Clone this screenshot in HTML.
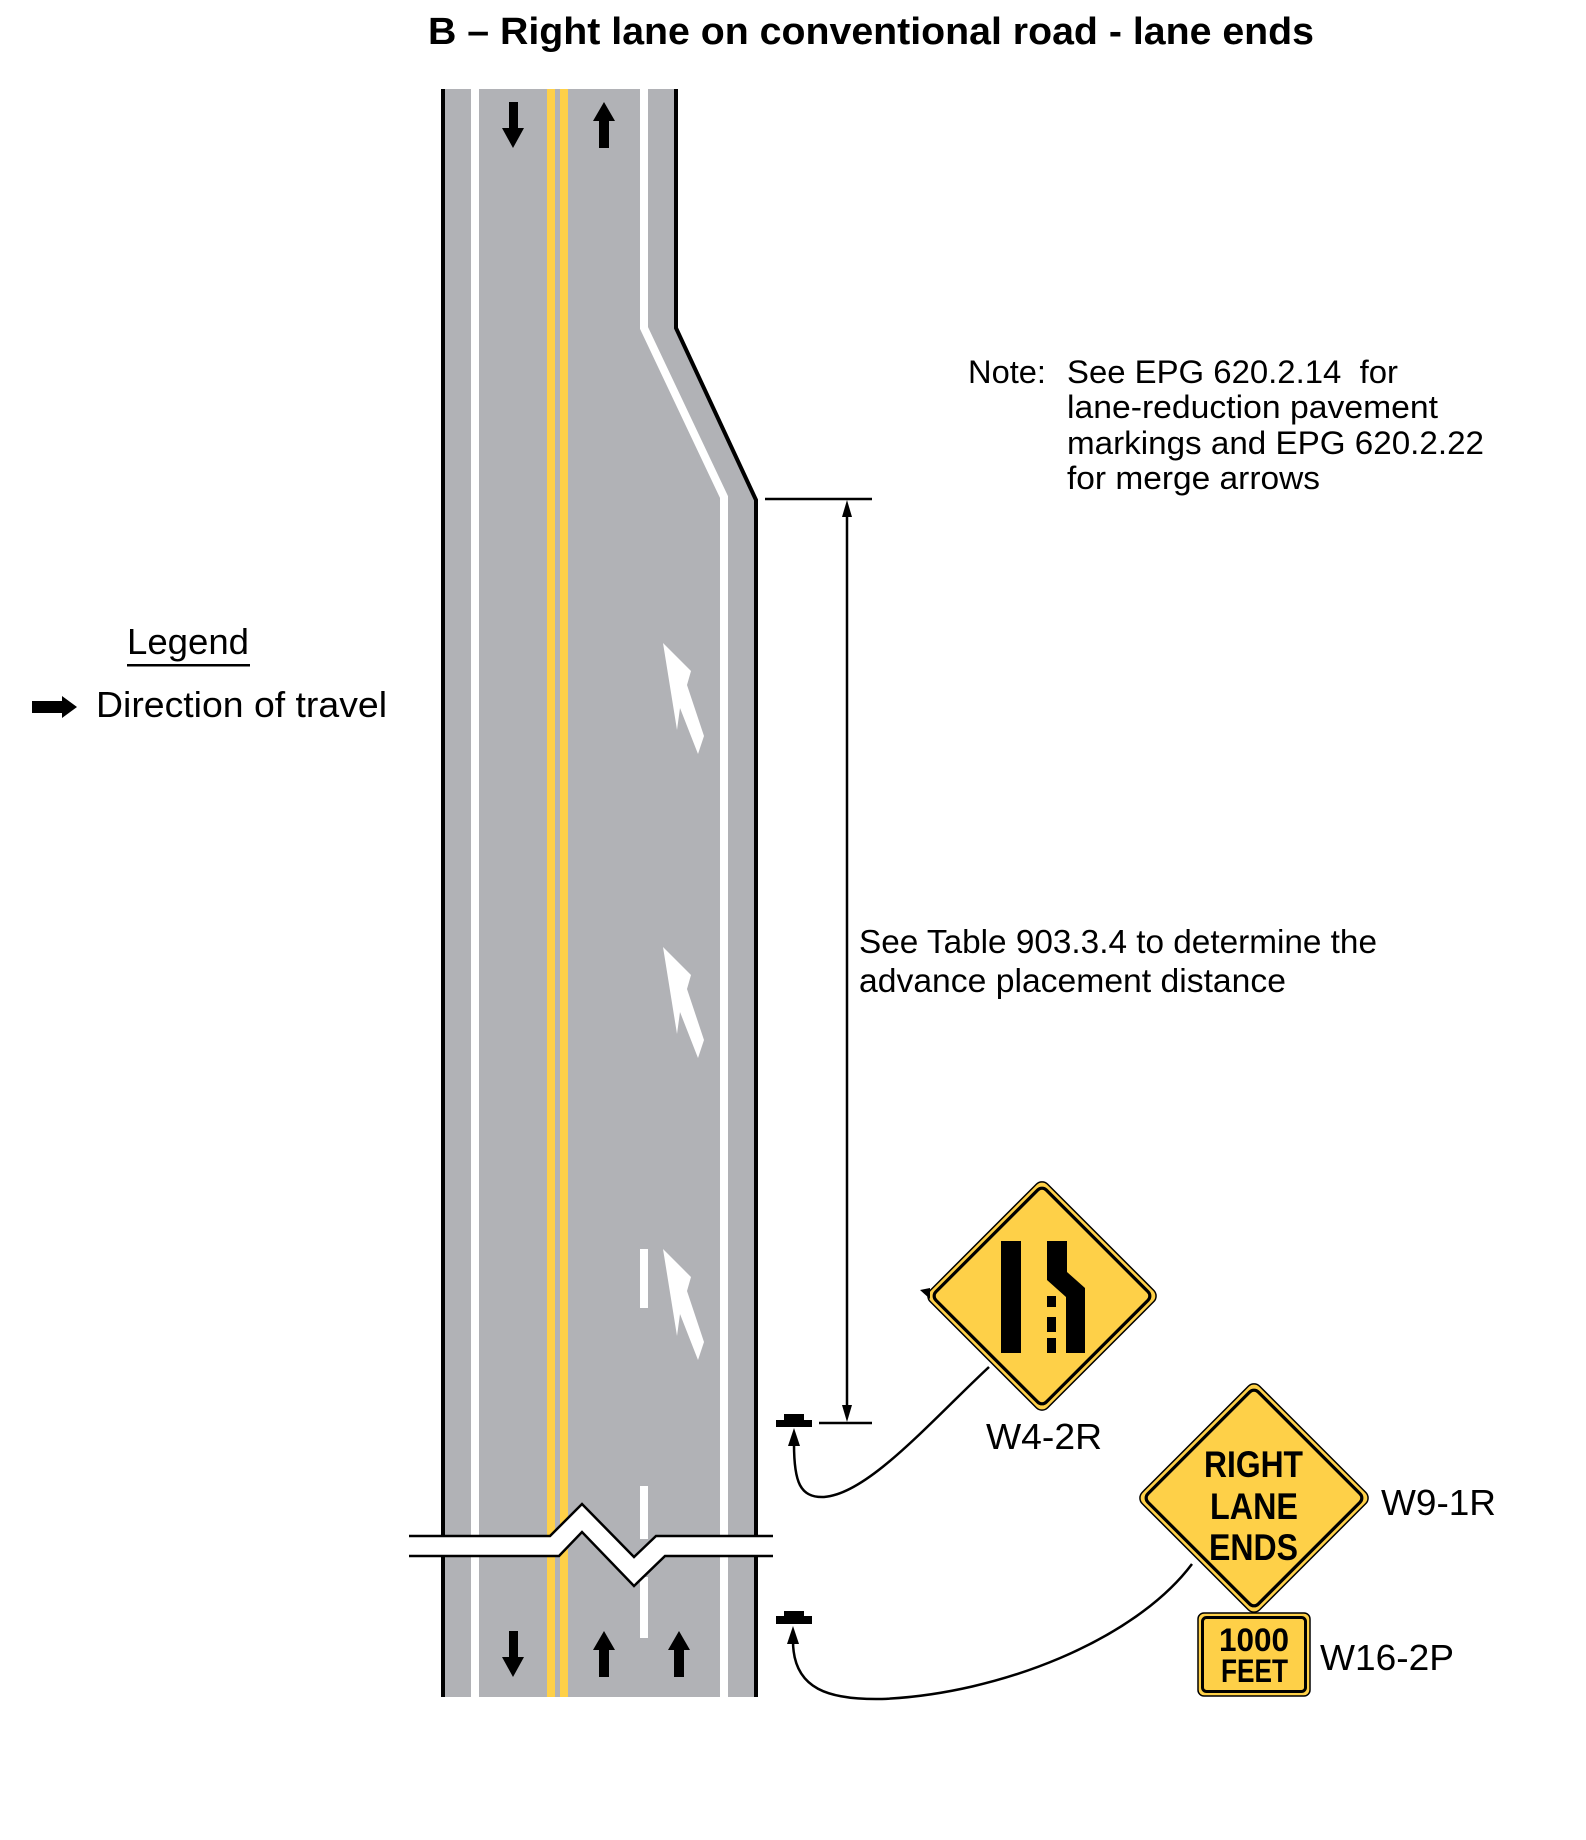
<!DOCTYPE html>
<html>
<head>
<meta charset="utf-8">
<style>
  html, body { margin:0; padding:0; background:#ffffff; }
  body { width:1586px; height:1840px; overflow:hidden; }
  svg { display:block; }
  text { font-family: "Liberation Sans", "DejaVu Sans", sans-serif; fill:#000; }
</style>
</head>
<body>
<svg width="1586" height="1840" viewBox="0 0 1586 1840" xmlns="http://www.w3.org/2000/svg">
  <rect x="0" y="0" width="1586" height="1840" fill="#ffffff"/>

  <!-- Title -->
  <text x="428" y="44" font-size="38" font-weight="bold" textLength="886" lengthAdjust="spacingAndGlyphs">B – Right lane on conventional road - lane ends</text>

  <!-- Road gray surface -->
  <polygon points="443,89 676,89 676,328 756,500 756,1697 443,1697" fill="#b1b2b6"/>

  <!-- Left white edge line -->
  <rect x="471" y="89" width="8" height="1608" fill="#ffffff"/>
  <!-- Yellow center lines -->
  <rect x="547" y="89" width="8" height="1608" fill="#fed048"/>
  <rect x="560" y="89" width="8" height="1608" fill="#fed048"/>
  <!-- Right white edge line with taper -->
  <polyline points="644,89 644,328 724,497 724,1697" fill="none" stroke="#ffffff" stroke-width="8" stroke-linejoin="miter"/>

  <!-- Black road edges -->
  <line x1="443" y1="89" x2="443" y2="1697" stroke="#000" stroke-width="4"/>
  <polyline points="676,89 676,328 756,500 756,1697" fill="none" stroke="#000" stroke-width="4"/>

  <!-- Lane dashes -->
  <rect x="640" y="1249" width="8" height="59" fill="#ffffff"/>
  <rect x="640" y="1486" width="8" height="53" fill="#ffffff"/>
  <rect x="640" y="1577" width="8" height="61" fill="#ffffff"/>

  <!-- Top arrows -->
  <polygon points="509,102 518,102 518,128 524,128 513,148 502,128 509,128" fill="#000"/>
  <polygon points="604,102 615,121 609,121 609,148 599,148 599,121 593,121" fill="#000"/>

  <!-- Bottom arrows -->
  <polygon points="509,1631 518,1631 518,1657 524,1657 513,1677 502,1657 509,1657" fill="#000"/>
  <polygon points="604,1631 615,1650 609,1650 609,1677 599,1677 599,1650 593,1650" fill="#000"/>
  <polygon points="679,1631 690,1650 684,1650 684,1677 674,1677 674,1650 668,1650" fill="#000"/>

  <!-- Merge arrows -->
  <g fill="#ffffff">
    <polygon transform="translate(663,643)" points="0,0 28,28 24,42 41,93 35,111 17,65 14,87"/>
    <polygon transform="translate(663,947)" points="0,0 28,28 24,42 41,93 35,111 17,65 14,87"/>
    <polygon transform="translate(663,1249)" points="0,0 28,28 24,42 41,93 35,111 17,65 14,87"/>
  </g>

  <!-- Break line -->
  <polygon points="409,1536 550,1536 582,1504 634,1557 656,1536 773,1536 773,1556 665,1556 634,1586 582,1532 559,1556 409,1556" fill="#ffffff"/>
  <polyline points="409,1536 550,1536 582,1504 634,1557 656,1536 773,1536" fill="none" stroke="#000" stroke-width="2.5"/>
  <polyline points="409,1556 559,1556 582,1532 634,1586 665,1556 773,1556" fill="none" stroke="#000" stroke-width="2.5"/>

  <!-- Dimension line -->
  <line x1="765" y1="499" x2="872" y2="499" stroke="#000" stroke-width="2.5"/>
  <line x1="819" y1="1423" x2="872" y2="1423" stroke="#000" stroke-width="2.5"/>
  <line x1="847" y1="505" x2="847" y2="1416" stroke="#000" stroke-width="2.5"/>
  <polygon points="847,500 852,517 842,517" fill="#000"/>
  <polygon points="847,1422 852,1405 842,1405" fill="#000"/>

  <!-- Note text -->
  <text x="968" y="383" font-size="32" textLength="78" lengthAdjust="spacingAndGlyphs">Note:</text>
  <text x="1067" y="383" font-size="32" textLength="331" lengthAdjust="spacingAndGlyphs" xml:space="preserve">See EPG 620.2.14&#160;&#160;for</text>
  <text x="1067" y="418" font-size="32" textLength="371" lengthAdjust="spacingAndGlyphs">lane-reduction pavement</text>
  <text x="1067" y="454" font-size="32" textLength="417" lengthAdjust="spacingAndGlyphs">markings and EPG 620.2.22</text>
  <text x="1067" y="489" font-size="32" textLength="253" lengthAdjust="spacingAndGlyphs">for merge arrows</text>

  <!-- Table text -->
  <text x="859" y="953" font-size="33" textLength="518" lengthAdjust="spacingAndGlyphs">See Table 903.3.4 to determine the</text>
  <text x="859" y="992" font-size="33" textLength="427" lengthAdjust="spacingAndGlyphs">advance placement distance</text>

  <!-- Legend -->
  <text x="127" y="654" font-size="36" textLength="122" lengthAdjust="spacingAndGlyphs">Legend</text>
  <rect x="127" y="664" width="123" height="2.5" fill="#000"/>
  <polygon points="32,701 62,701 62,696 77,707 62,718 62,713 32,713" fill="#000"/>
  <text x="96" y="717" font-size="36" textLength="291" lengthAdjust="spacingAndGlyphs">Direction of travel</text>

  <!-- Sign post markers -->
  <rect x="784" y="1414" width="20" height="7" fill="#000"/>
  <rect x="776" y="1420" width="36" height="7" fill="#000"/>
  <rect x="784" y="1611" width="20" height="6" fill="#000"/>
  <rect x="776" y="1616" width="36" height="8" fill="#000"/>

  <!-- Leader curves -->
  <path d="M 794 1444 C 794 1482, 800 1498, 824 1497 C 868 1494, 930 1422, 989 1367" fill="none" stroke="#000" stroke-width="2.5"/>
  <polygon points="794,1428 800,1446 788,1446" fill="#000"/>
  <path d="M 793 1641 C 793 1690, 830 1700, 882 1699 C 1000 1694, 1135 1640, 1192 1564" fill="none" stroke="#000" stroke-width="2.5"/>
  <polygon points="793,1626 799,1644 787,1644" fill="#000"/>

  <!-- W4-2R sign -->
  <g transform="translate(1042,1296) rotate(45)">
    <rect x="-83" y="-83" width="166" height="166" rx="8" fill="#fed048" stroke="#000" stroke-width="1.5"/>
    <rect x="-78" y="-78" width="156" height="156" rx="6" fill="none" stroke="#000" stroke-width="3.2"/>
  </g>
  <polygon points="920,1290 930,1288 930,1299" fill="#000"/>
  <rect x="1001" y="1241" width="20" height="112" fill="#000"/>
  <polygon points="1047,1241 1067,1241 1067,1272 1085,1288 1085,1353 1066,1353 1066,1297 1047,1280" fill="#000"/>
  <rect x="1047" y="1296" width="9" height="11" fill="#000"/>
  <rect x="1047" y="1317" width="9" height="15" fill="#000"/>
  <rect x="1047" y="1338" width="9" height="15" fill="#000"/>
  <text x="986" y="1449" font-size="36" textLength="116" lengthAdjust="spacingAndGlyphs">W4-2R</text>

  <!-- W9-1R sign -->
  <g transform="translate(1254,1498) rotate(45)">
    <rect x="-83" y="-83" width="166" height="166" rx="8" fill="#fed048" stroke="#000" stroke-width="1.5"/>
    <rect x="-78" y="-78" width="156" height="156" rx="6" fill="none" stroke="#000" stroke-width="3.2"/>
  </g>
  <text x="1204" y="1477" font-size="37" font-weight="bold" textLength="99" lengthAdjust="spacingAndGlyphs">RIGHT</text>
  <text x="1210" y="1519" font-size="37" font-weight="bold" textLength="88" lengthAdjust="spacingAndGlyphs">LANE</text>
  <text x="1209" y="1560" font-size="37" font-weight="bold" textLength="89" lengthAdjust="spacingAndGlyphs">ENDS</text>
  <text x="1381" y="1515" font-size="36" textLength="115" lengthAdjust="spacingAndGlyphs">W9-1R</text>

  <!-- W16-2P plaque -->
  <rect x="1198" y="1613" width="112" height="83" rx="6" fill="#fed048" stroke="#000" stroke-width="1.5"/>
  <rect x="1202.5" y="1617.5" width="103" height="74" rx="4" fill="none" stroke="#000" stroke-width="3"/>
  <text x="1219" y="1651" font-size="32" font-weight="bold" textLength="70" lengthAdjust="spacingAndGlyphs">1000</text>
  <text x="1221" y="1682" font-size="32" font-weight="bold" textLength="67" lengthAdjust="spacingAndGlyphs">FEET</text>
  <text x="1320" y="1670" font-size="36" textLength="134" lengthAdjust="spacingAndGlyphs">W16-2P</text>
</svg>
</body>
</html>
